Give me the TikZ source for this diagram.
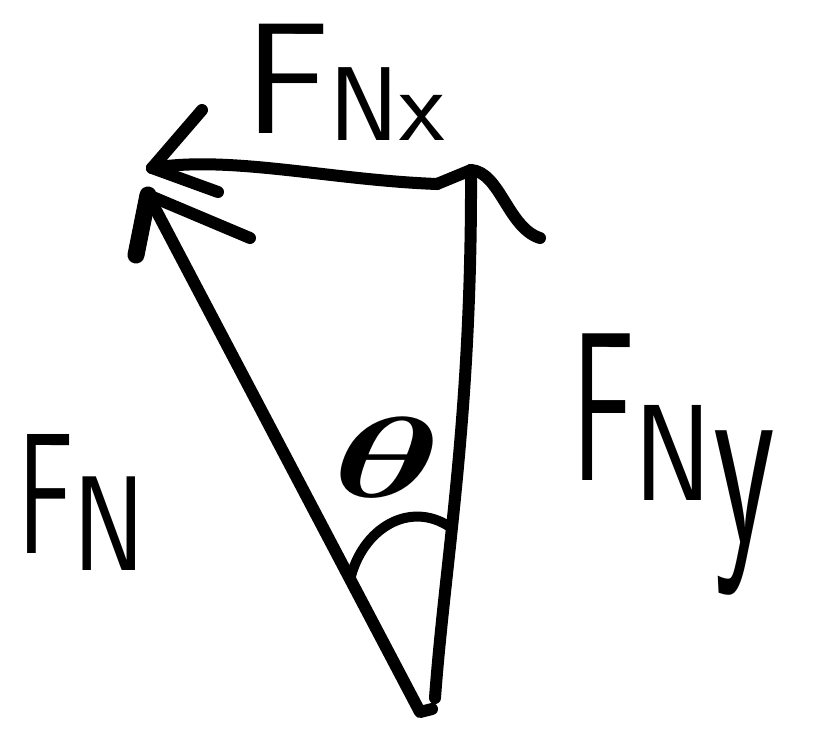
\RequirePackage{fix-cm}
\documentclass[tikz,border=0pt]{standalone}
\usepackage{graphicx}
\begin{document}
\begin{tikzpicture}[x=1pt,y=-1pt,
  pen/.style={line width=12pt,line cap=round,line join=round,draw=black},
  lbl/.style={inner sep=0pt,font=\sffamily,text=black}]
\useasboundingbox (0,0) rectangle (826,729);
% key points
\coordinate (O1) at (420,712);
\coordinate (O2) at (435,698);
\coordinate (A) at (148,195);
\coordinate (B) at (471,170);
\coordinate (C) at (437,184);
\coordinate (D) at (152,168);
\coordinate (P1) at (350,580);
\coordinate (P2) at (450,527);
% F_N vector
\draw[pen] (A) -- (O1) -- ++(12,-3);
\draw[pen,line width=17pt] (A) -- ++(-12,60);
\draw[pen] (A) -- ++(102,43);
% F_Ny vector
\draw[pen] (O2) .. controls (445,560) and (472,420) .. (B);
\draw[pen] (B) -- (C);
\draw[pen] (B) .. controls (500,172) and (508,228) .. ++(69,68);
% F_Nx vector
\draw[pen] (C) .. controls (330,180) and (230,155) .. (D);
\draw[pen] (D) -- ++(50,-58);
\draw[pen] (D) -- ++(66,24);
% angle arc
\draw[pen,line width=10pt] (P1) .. controls (362,528) and (410,500) .. (P2);
% labels
\node[lbl,anchor=base west] (fnx) at (245,133)
  {\fontsize{158}{158}\selectfont F\raisebox{-7pt}{\fontsize{105}{105}\selectfont Nx}};
\node[lbl,anchor=base west] (fn) at (18,553)
  {\scalebox{0.6}[1]{\fontsize{172}{172}\selectfont F}\raisebox{-17pt}{\scalebox{0.8}[1]{\fontsize{135}{135}\selectfont N}}};
\node[lbl,anchor=base west] (fny) at (572,480)
  {\scalebox{0.55}[1]{\fontsize{212}{212}\selectfont F}\raisebox{-20pt}{\scalebox{0.85}[1]{\fontsize{137}{137}\selectfont N}}\hspace{2pt}\raisebox{-62pt}{\scalebox{0.55}[1]{\fontsize{260}{260}\selectfont y}}};
\node[inner sep=0pt] (th) at (387,458)
  {\scalebox{1.6}[1]{\fontsize{115}{115}\selectfont\boldmath$\theta$}};
\end{tikzpicture}
\end{document}
